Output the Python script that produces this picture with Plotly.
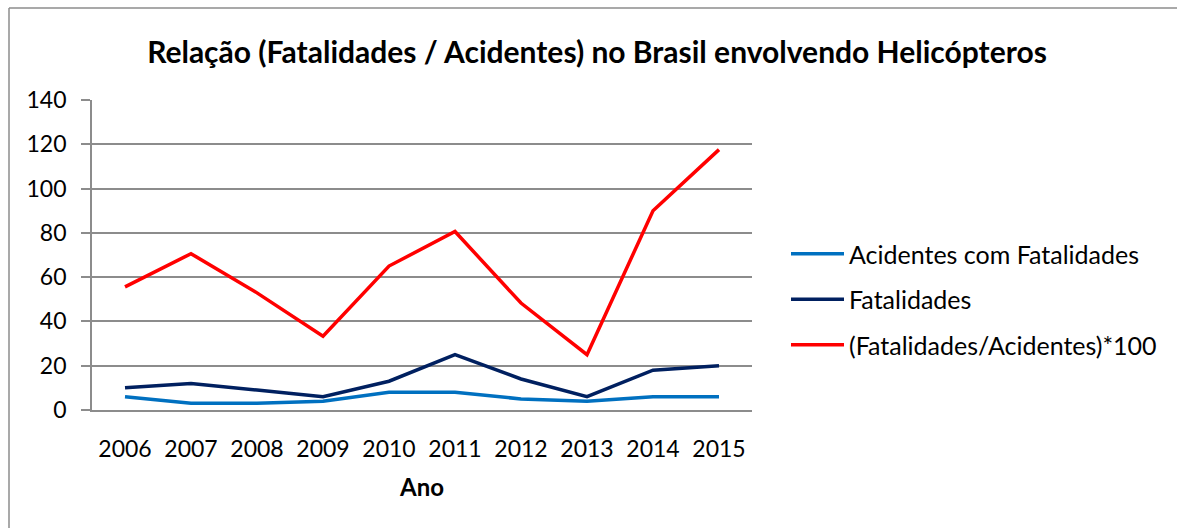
import plotly.graph_objects as go

anos = ["2006", "2007", "2008", "2009", "2010", "2011", "2012", "2013", "2014", "2015"]
acidentes = [6, 3, 3, 4, 8, 8, 5, 4, 6, 6]
fatalidades = [10, 12, 9, 6, 13, 25, 14, 6, 18, 20]
relacao = [55.6, 70.6, 52.9, 33.3, 65, 80.6, 48.3, 25, 90, 117.6]

nomes = ["Acidentes com Fatalidades", "Fatalidades", "(Fatalidades/Acidentes)*100"]
cores = ["#0070C0", "#002060", "#FF0000"]
y_ticks = [0, 20, 40, 60, 80, 100, 120, 140]

FONT = "Lato, 'Open Sans', sans-serif"
GRID = "#8c8c8c"

fig = go.Figure()
for i, (nome, serie, cor) in enumerate(zip(nomes, [acidentes, fatalidades, relacao], cores)):
    fig.add_trace(go.Scatter(
        x=anos, y=serie, mode="lines", name=nome,
        line=dict(color=cor, width=3.5),
        legendgroup=f"g{i}",
    ))

L, R, T, B = 92, 752, 100, 410
W, H = 1177, 528

def px(xp):
    return (xp - L) / (R - L)

def py(yp):
    return (B - yp) / (B - T)

border = dict(color=GRID, width=1.5)

fig.update_layout(
    width=W, height=H,
    margin=dict(l=L, r=W - R, t=T, b=H - B, autoexpand=False),
    paper_bgcolor="white", plot_bgcolor="white",
    font=dict(family=FONT, size=23, color="#000000"),
    title=dict(
        text="<b>Relação (Fatalidades / Acidentes) no Brasil envolvendo Helicópteros</b>",
        x=597 / W, xanchor="center", y=1 - 52 / H, yanchor="middle",
        font=dict(family=FONT, size=30, color="#000000"),
    ),
    xaxis=dict(
        type="category", range=[-0.5, 9.5],
        showgrid=False, showline=True, linecolor=GRID, linewidth=1.8,
        ticks="", tickfont=dict(size=23),
        ticklabelstandoff=17,
        title=dict(text="<b>Ano</b>", font=dict(size=24), standoff=19),
        fixedrange=True,
    ),
    yaxis=dict(
        range=[0, 140], tickvals=y_ticks,
        showgrid=True, gridcolor=GRID, gridwidth=1.8,
        showline=True, linecolor=GRID, linewidth=1.8,
        ticks="outside", ticklen=9, tickcolor=GRID, tickwidth=1.8,
        ticklabelstandoff=10,
        zeroline=False, tickfont=dict(size=23),
        fixedrange=True,
    ),
    legend=dict(
        x=px(786), xanchor="left", y=py(231), yanchor="top",
        font=dict(size=25), itemwidth=53, tracegroupgap=10,
        bgcolor="rgba(0,0,0,0)",
    ),
    shapes=[
        dict(type="line", xref="paper", yref="paper",
             x0=px(9), x1=px(W), y0=py(8), y1=py(8), line=border, layer="below"),
        dict(type="line", xref="paper", yref="paper",
             x0=px(9), x1=px(9), y0=py(8), y1=py(H), line=border, layer="below"),
    ],
    showlegend=True,
)

fig.write_html("out.html", config={"displayModeBar": False},
               post_script="document.body.style.margin='0px'; document.body.style.overflow='hidden';")
